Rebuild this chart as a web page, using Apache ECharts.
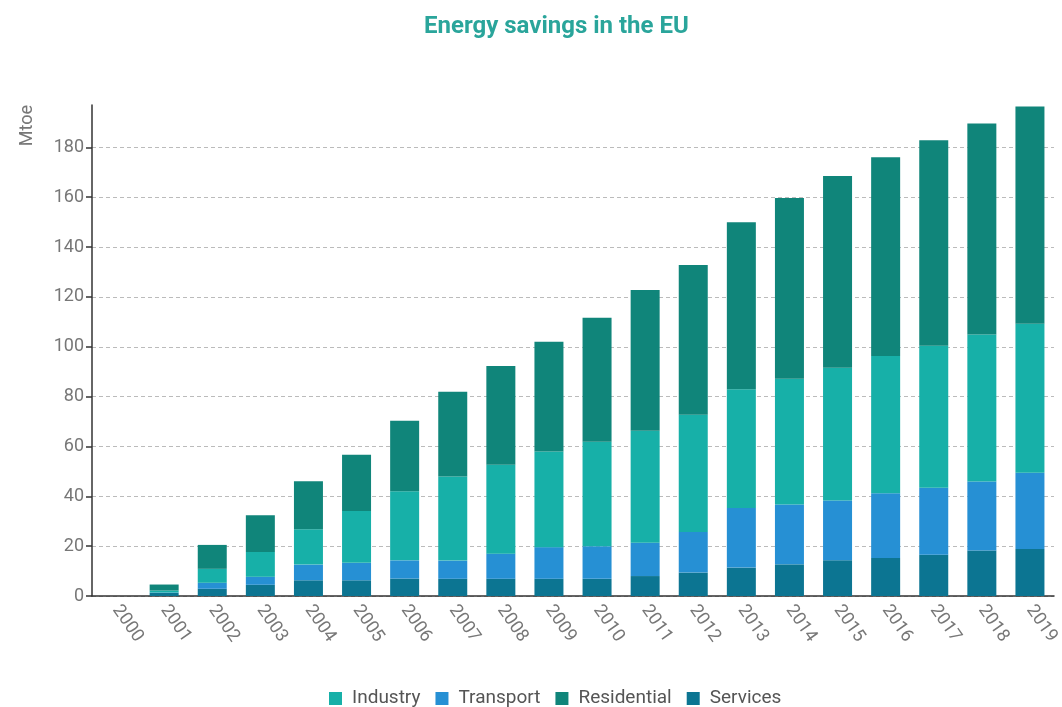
<!DOCTYPE html>
<html>
<head>
<meta charset="utf-8">
<script src="https://cdn.jsdelivr.net/npm/echarts@6/dist/echarts.min.js"></script>
<style>html,body{margin:0;padding:0;background:#fff}#c{width:1062px;height:707px}</style>
</head>
<body>
<div id="c"></div>
<script>
const years = ['2000','2001','2002','2003','2004','2005','2006','2007','2008','2009','2010','2011','2012','2013','2014','2015','2016','2017','2018','2019'];
const services    = [0, 1.2, 2.9, 4.5, 6.3, 6.3, 7.0, 6.9, 6.9, 6.9, 6.9, 8.0, 9.4, 11.4, 12.7, 14.3, 15.2, 16.6, 18.3, 18.9];
const transport   = [0, 0.2, 2.4, 3.2, 6.3, 7.0, 7.3, 7.3, 10.1, 12.7, 13.1, 13.4, 16.3, 23.9, 24.0, 24.0, 26.0, 26.8, 27.6, 30.6];
const industry    = [0, 0.8, 5.6, 10.0, 14.2, 20.8, 27.7, 33.7, 35.7, 38.4, 41.9, 44.9, 47.0, 47.7, 50.5, 53.3, 55.1, 57.0, 59.0, 59.7];
const residential = [0, 2.4, 9.6, 14.7, 19.2, 22.6, 28.3, 34.0, 39.6, 44.0, 49.7, 56.5, 60.1, 67.0, 72.5, 76.9, 79.7, 82.5, 84.7, 87.2];

const colors = {Industry:'#17b0a8', Transport:'#2690d4', Residential:'#10857a', Services:'#0c7592'};
const font = 'Roboto, "Noto Sans", sans-serif';
const gridColors = ['#bbb','#bbb','#bbb','#bbb','#bbb','#bbb','#bbb','#bbb','#bbb','#bbb','rgba(0,0,0,0)'];

const chart = echarts.init(document.getElementById('c'), null, {renderer:'canvas'});
function bar(name, data){
  return {name, type:'bar', stack:'total', data, barWidth:29, itemStyle:{color:colors[name]}};
}
chart.setOption({
  animation:false,
  title:{text:'Energy savings in the EU', left:419, top:10,
    textStyle:{color:'#2aa59b', fontSize:24, fontWeight:'bold', fontFamily:font}},
  legend:{top:684, left:324, itemWidth:13, itemHeight:13, itemGap:15, icon:'rect',
    data:['Industry','Transport','Residential','Services'],
    textStyle:{color:'#555', fontSize:19, fontFamily:font, padding:[0,0,0,5]}},
  grid:{left:92, right:-2, top:105, bottom:111, containLabel:false},
  xAxis:{type:'category', data:years, boundaryGap:true,
    axisLine:{lineStyle:{color:'#333', width:1.5}},
    axisTick:{alignWithLabel:true, length:7, lineStyle:{color:'#333', width:1.5}},
    axisLabel:{rotate:-55, color:'#777', fontSize:18, fontFamily:font, margin:11}},
  yAxis:{type:'value', min:0, max:197, interval:20,
    name:'Mtoe', nameLocation:'end', nameRotate:90, nameGap:0,
    nameTextStyle:{color:'#777', fontSize:18, fontFamily:font, align:'right', verticalAlign:'bottom', padding:[0,0,56,0]},
    axisLine:{show:true, lineStyle:{color:'#333', width:1.5}},
    axisTick:{show:true, length:6, lineStyle:{color:'#333', width:1.5}},
    axisLabel:{color:'#777', fontSize:18, fontFamily:font, showMaxLabel:false, margin:8},
    splitLine:{show:true, lineStyle:{color:gridColors, type:[4,3], width:1}}},
  series:[bar('Services', services), bar('Transport', transport), bar('Industry', industry), bar('Residential', residential)]
});
</script>
</body>
</html>
